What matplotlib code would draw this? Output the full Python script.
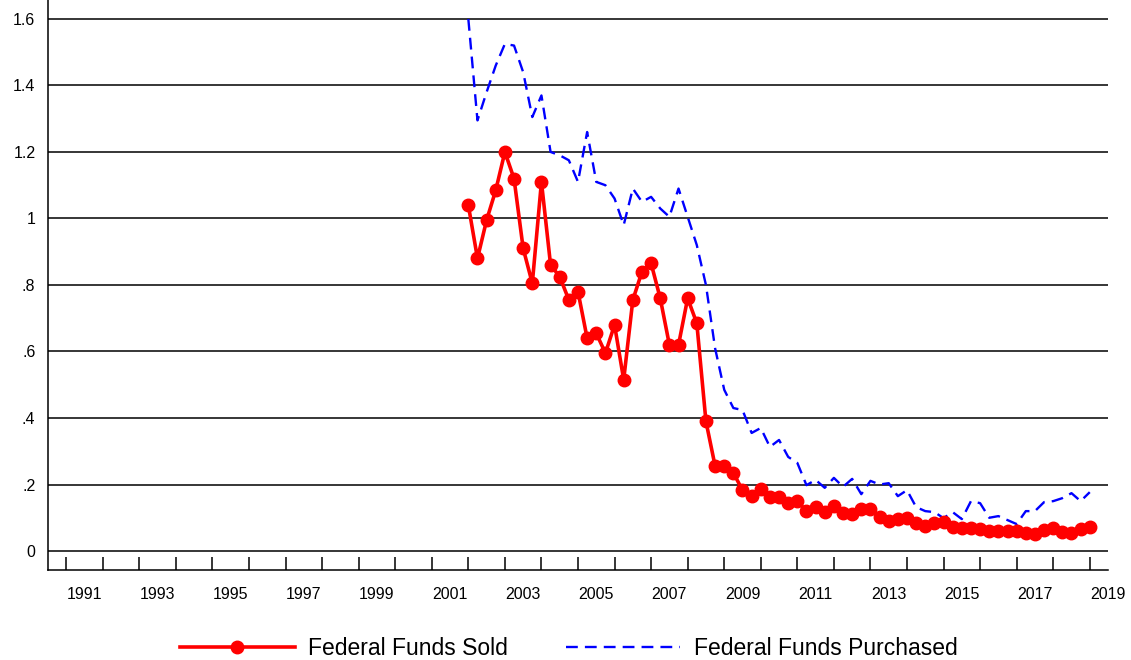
import numpy as np
import matplotlib.pyplot as plt
from matplotlib.ticker import FixedLocator, NullFormatter

plt.rcParams['font.family'] = ['Liberation Sans', 'DejaVu Sans']

# quarterly observations, first one plotted at 2002.0
first_year = 2002
n_quarters = 69

fed_funds_sold = [
    1.04, 0.88, 0.995, 1.085, 1.20, 1.12, 0.91, 0.805, 1.11, 0.86,
    0.825, 0.755, 0.78, 0.64, 0.655, 0.595, 0.68, 0.515, 0.755, 0.84,
    0.865, 0.76, 0.62, 0.62, 0.76, 0.685, 0.39, 0.256, 0.256, 0.235,
    0.183, 0.165, 0.186, 0.162, 0.162, 0.145, 0.15, 0.12, 0.132, 0.117,
    0.135, 0.114, 0.111, 0.126, 0.126, 0.102, 0.09, 0.096, 0.099, 0.084,
    0.075, 0.084, 0.087, 0.072, 0.069, 0.069, 0.066, 0.06, 0.06, 0.06,
    0.06, 0.054, 0.051, 0.063, 0.069, 0.057, 0.054, 0.066, 0.072,
]

fed_funds_purchased = [
    1.60, 1.295, 1.38, 1.46, 1.525, 1.52, 1.44, 1.305, 1.37, 1.20,
    1.19, 1.175, 1.11, 1.26, 1.11, 1.10, 1.06, 0.98, 1.09, 1.05,
    1.065, 1.03, 1.005, 1.09, 1.005, 0.92, 0.80, 0.61, 0.485, 0.43,
    0.424, 0.355, 0.37, 0.313, 0.334, 0.283, 0.265, 0.198, 0.214, 0.19,
    0.22, 0.193, 0.217, 0.171, 0.211, 0.20, 0.204, 0.165, 0.183, 0.132,
    0.12, 0.117, 0.099, 0.117, 0.096, 0.15, 0.144, 0.10, 0.105, 0.093,
    0.081, 0.12, 0.12, 0.147, 0.15, 0.159, 0.174, 0.15, 0.177,
]

y_ticks = [0, 0.2, 0.4, 0.6, 0.8, 1.0, 1.2, 1.4, 1.6]
y_labels = ['0', '.2', '.4', '.6', '.8', '1', '1.2', '1.4', '1.6']
year_labels = list(range(1991, 2020, 2))

x = first_year + np.arange(n_quarters) / 4

fig = plt.figure(figsize=(11.31, 6.60), dpi=100)
ax = fig.add_axes([0.0424, 0.1364, 0.9373, 0.8636])

ax.plot(x, fed_funds_sold, color='#ff0000', lw=2.6, marker='o', ms=9,
        label='Federal Funds Sold', zorder=4)
ax.plot(x, fed_funds_purchased, color='#0000ff', lw=1.7, dashes=(5, 3),
        label='Federal Funds Purchased', zorder=3)

ax.set_xlim(1990.5, 2019.5)
ax.set_ylim(-0.057, 1.657)

# gridlines
for yv in y_ticks:
    ax.axhline(yv, color='black', lw=1.1, zorder=1)

ax.set_yticks(y_ticks)
ax.set_yticklabels(y_labels)
ax.tick_params(axis='y', length=0, pad=9, labelsize=11.5)

# year boundaries as ticks, labels centred on odd years
ax.xaxis.set_major_locator(FixedLocator(np.arange(1991, 2020)))
ax.xaxis.set_major_formatter(NullFormatter())
ax.xaxis.set_minor_locator(FixedLocator([yr + 0.5 for yr in year_labels]))
ax.set_xticklabels([str(yr) for yr in year_labels], minor=True)
ax.tick_params(axis='x', which='major', direction='in', length=9.5, width=1.1)
ax.tick_params(axis='x', which='minor', length=0, pad=12, labelsize=11.5)

for s in ['top', 'right']:
    ax.spines[s].set_visible(False)
for s in ['left', 'bottom']:
    ax.spines[s].set_linewidth(1.1)

fig.legend(loc='center', bbox_to_anchor=(0.503, 0.018), ncol=2, frameon=False,
           fontsize=16.5, handlelength=5.0, handletextpad=0.6, columnspacing=2.5)

fig.savefig('out.png', dpi=100)
